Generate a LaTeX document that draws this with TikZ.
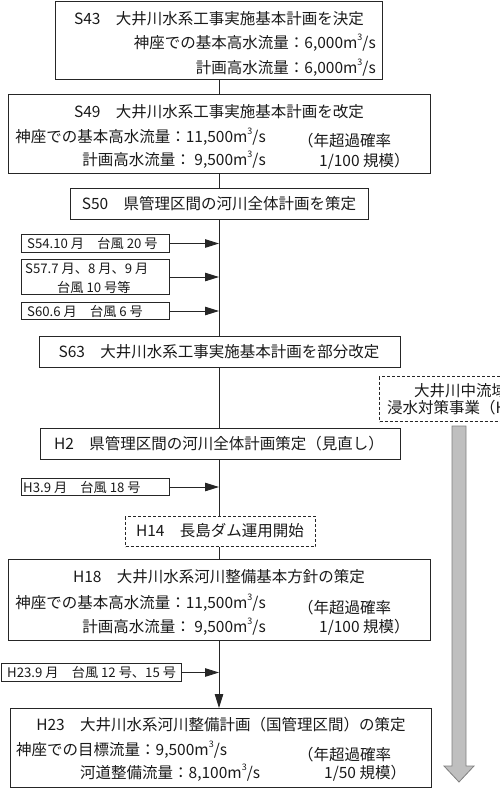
\documentclass[tikz,border=0pt]{standalone}
\usepackage{fontspec}
\setmainfont{Noto Sans CJK JP}
\usetikzlibrary{arrows.meta}
\newcommand{\cubem}{m\raisebox{0.5em}{\fontsize{9}{9}\selectfont 3}}
\begin{document}
\begin{tikzpicture}[x=1pt,y=-1pt,
  frame/.style={draw=black!85, line width=1pt, inner sep=0pt, anchor=north west},
  dframe/.style={frame, dash pattern=on 3pt off 2pt},
  big/.style={font=\fontsize{15.5}{18}\selectfont, inner sep=0pt, text=black!90},
  small/.style={font=\fontsize{13.2}{15}\selectfont, inner sep=0pt, text=black!90, anchor=west},
  link/.style={draw=black!85, line width=0.9pt},
  tipped/.style={-{Triangle[length=14pt,width=8.5pt]}},
  bigarrow/.style={fill=black!25, draw=black!50, line width=0.8pt}]
\useasboundingbox (0,0) rectangle (500,788);
\clip (0,0) rectangle (500,788);
\coordinate (axis) at (219,0);

% boxes
\node[frame, minimum width=327, minimum height=78] (b1) at (55,1) {};
\node[frame, minimum width=422, minimum height=79] (b2) at (8,94) {};
\node[frame, minimum width=298, minimum height=31] (b3) at (70,188) {};
\node[frame, minimum width=148, minimum height=18] (s1) at (21,234) {};
\node[frame, minimum width=148, minimum height=35] (s2) at (21,259) {};
\node[frame, minimum width=148, minimum height=17] (s3) at (21,302) {};
\node[frame, minimum width=361, minimum height=31] (b4) at (39,336) {};
\node[dframe, minimum width=200, minimum height=45] (r1) at (379,376) {};
\node[frame, minimum width=360, minimum height=31] (b5) at (40,428) {};
\node[frame, minimum width=148, minimum height=17] (s4) at (21,478) {};
\node[dframe, minimum width=190, minimum height=30] (b6) at (125,516) {};
\node[frame, minimum width=422, minimum height=81] (b7) at (8,559) {};
\node[frame, minimum width=180, minimum height=18] (s5) at (1,663) {};
\node[frame, minimum width=421, minimum height=79] (b8) at (10,708) {};

% texts
\node[big] (t1a) at (219,19) {S43　大井川水系工事実施基本計画を決定};
\node[big, anchor=east] (t1b) at (376,43) {神座での基本高水流量：6,000\cubem/s};
\node[big, anchor=east] (t1c) at (376,68) {計画高水流量：6,000\cubem/s};

\node[big] (t2a) at (219,112) {S49　大井川水系工事実施基本計画を改定};
\node[big, anchor=east] (t2b) at (266,137) {神座での基本高水流量：11,500\cubem/s};
\node[big, anchor=east] (t2c) at (266,160) {計画高水流量：\ 9,500\cubem/s};
\node[big, anchor=west] (t2d) at (298,141) {（年超過確率};
\node[big, anchor=west] (t2e) at (319,161) {1/100 規模）};

\node[big] (t3) at (219,204) {S50　県管理区間の河川全体計画を策定};

\node[small] (u1) at (27,243) {S54.10 月　台風 20 号};
\node[small] (u2a) at (25,269) {S57.7 月、8 月、9 月};
\node[small] (u2b) at (57,287) {台風 10 号等};
\node[small] (u3) at (27,311) {S60.6 月　台風 6 号};

\node[big] (t4) at (219,352) {S63　大井川水系工事実施基本計画を部分改定};

\node[big, anchor=west] (r1a) at (414,391) {大井川中流域};
\node[big, anchor=west] (r1b) at (387,408) {浸水対策事業（H};

\node[big] (t5) at (219,444) {H2　県管理区間の河川全体計画策定（見直し）};

\node[small] (u4) at (23,487) {H3.9 月　台風 18 号};

\node[big] (t6) at (220,531) {H14　長島ダム運用開始};

\node[big] (t7a) at (219,577) {H18　大井川水系河川整備基本方針の策定};
\node[big, anchor=east] (t7b) at (266,603) {神座での基本高水流量：11,500\cubem/s};
\node[big, anchor=east] (t7c) at (266,627) {計画高水流量：\ 9,500\cubem/s};
\node[big, anchor=west] (t7d) at (298,608) {（年超過確率};
\node[big, anchor=west] (t7e) at (319,627) {1/100 規模）};

\node[small] (u5) at (7,672) {H23.9 月　台風 12 号、15 号};

\node[big] (t8a) at (221,725) {H23　大井川水系河川整備計画（国管理区間）の策定};
\node[big, anchor=west] (t8b) at (16,750) {神座での目標流量：9,500\cubem/s};
\node[big, anchor=west] (t8c) at (80,773) {河道整備流量：8,100\cubem/s};
\node[big, anchor=west] (t8d) at (298,755) {（年超過確率};
\node[big, anchor=west] (t8e) at (324,773) {1/50 規模）};

% main line
\draw[link] (axis |- b1.south) -- (axis |- b2.north);
\draw[link] (axis |- b2.south) -- (axis |- b3.north);
\draw[link] (axis |- b3.south) -- (axis |- b4.north);
\draw[link] (axis |- b4.south) -- (axis |- b5.north);
\draw[link] (axis |- b5.south) -- (axis |- b6.north);
\draw[link] (axis |- b6.south) -- (axis |- b7.north);
\draw[link, tipped] (axis |- b7.south) -- (axis |- b8.north);

% side arrows
\draw[link, tipped] (s1.east) -- (s1.east -| axis);
\draw[link, tipped] (s2.east) -- (s2.east -| axis);
\draw[link, tipped] (s3.east) -- (s3.east -| axis);
\draw[link, tipped] (s4.east) -- (s4.east -| axis);
\draw[link, tipped] (s5.east) -- (s5.east -| axis);

% big gray arrow
\path[bigarrow] (452,426) -- (466,426) -- (466,766) -- (474,766) -- (459,782) -- (444,766) -- (452,766) -- cycle;
\end{tikzpicture}
\end{document}
